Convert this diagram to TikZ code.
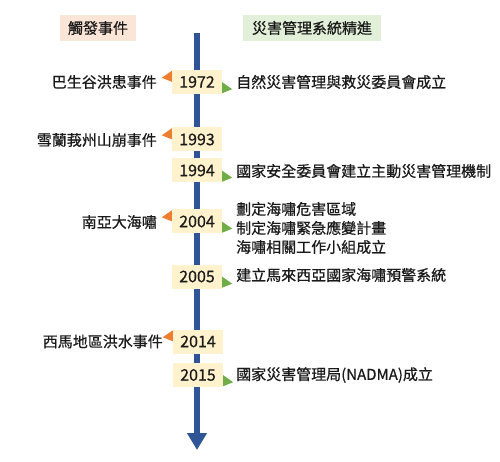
\documentclass[tikz,border=0pt]{standalone}
\usepackage{fontspec}
\setmainfont{Noto Sans CJK TC}[FakeBold=0.6]
\usetikzlibrary{arrows.meta}
\definecolor{lineblue}{HTML}{2F5597}
\definecolor{yearfill}{HTML}{FFF2CC}
\definecolor{trigor}{HTML}{ED7D31}
\definecolor{trigre}{HTML}{70AD47}
\definecolor{hdrpink}{HTML}{FBE5D6}
\definecolor{hdrgreen}{HTML}{E2F0D9}
\definecolor{txt}{HTML}{1A1A1A}
\tikzset{
  every node/.style={font=\fontsize{15}{19}\selectfont, text=txt},
  yearbox/.style={fill=yearfill, minimum width=50pt, minimum height=24pt, inner sep=0pt, font=\fontsize{16}{19}\selectfont},
  lefttext/.style={anchor=east, inner sep=0pt},
  righttext/.style={anchor=west, inner sep=0pt, align=left},
  hdr/.style={minimum height=26pt, inner sep=0pt},
}
\newcommand{\trigL}[1]{\fill[trigor] ([yshift=-1pt]#1.north west) -- ([yshift=-12pt]#1.north west) -- ([xshift=-10pt,yshift=-8pt]#1.north west) -- cycle;}
\newcommand{\trigR}[1]{\fill[trigre] ([yshift=12pt]#1.south east) -- ([yshift=1pt]#1.south east) -- ([xshift=10pt,yshift=5pt]#1.south east) -- cycle;}
\begin{document}
\begin{tikzpicture}[x=1pt,y=-1pt]
\useasboundingbox (0,0) rectangle (500,462);
% headers
\node[hdr, fill=hdrpink, minimum width=76pt] (h1) at (98,28) {觸發事件};
\node[hdr, fill=hdrgreen, minimum width=138pt] (h2) at (312,28) {災害管理系統精進};
% timeline axis
\coordinate (top) at (197,33);
\coordinate (bot) at (197,450);
\draw[lineblue, line width=5.5pt, -{Triangle[width=19pt,length=17pt]}] (top) -- (bot);
% year boxes
\node[yearbox] (y1972) at (197,82) {1972};
\node[yearbox] (y1993) at (197,139.5) {1993};
\node[yearbox] (y1994) at (197,170.5) {1994};
\node[yearbox] (y2004) at (197,221.5) {2004};
\node[yearbox] (y2005) at (197,276.5) {2005};
\node[yearbox] (y2014) at (198,341.5) {2014};
\node[yearbox] (y2015) at (198,375) {2015};
% triangles
\trigL{y1972} \trigR{y1972}
\trigL{y1993}
\trigR{y1994}
\trigL{y2004} \trigR{y2004}
\trigR{y2005}
\trigL{y2014}
\trigR{y2015}
% left texts
\node[lefttext] (e1972) at (157,82) {巴生谷洪患事件};
\node[lefttext] (e1993) at (157,140) {雪蘭莪州山崩事件};
\node[lefttext] (e2004) at (157,222) {南亞大海嘯};
\node[lefttext] (e2014) at (163,341.5) {西馬地區洪水事件};
% right texts
\node[righttext] (r1972) at (236,82) {自然災害管理與救災委員會成立};
\node[righttext] (r1994) at (236,171) {國家安全委員會建立主動災害管理機制};
\node[righttext] (r2004) at (236,228) {劃定海嘯危害區域\\制定海嘯緊急應變計畫\\海嘯相關工作小組成立};
\node[righttext] (r2005) at (236,275) {建立馬來西亞國家海嘯預警系統};
\node[righttext] (r2015) at (236,375) {國家災害管理局(NADMA)成立};
\end{tikzpicture}
\end{document}
